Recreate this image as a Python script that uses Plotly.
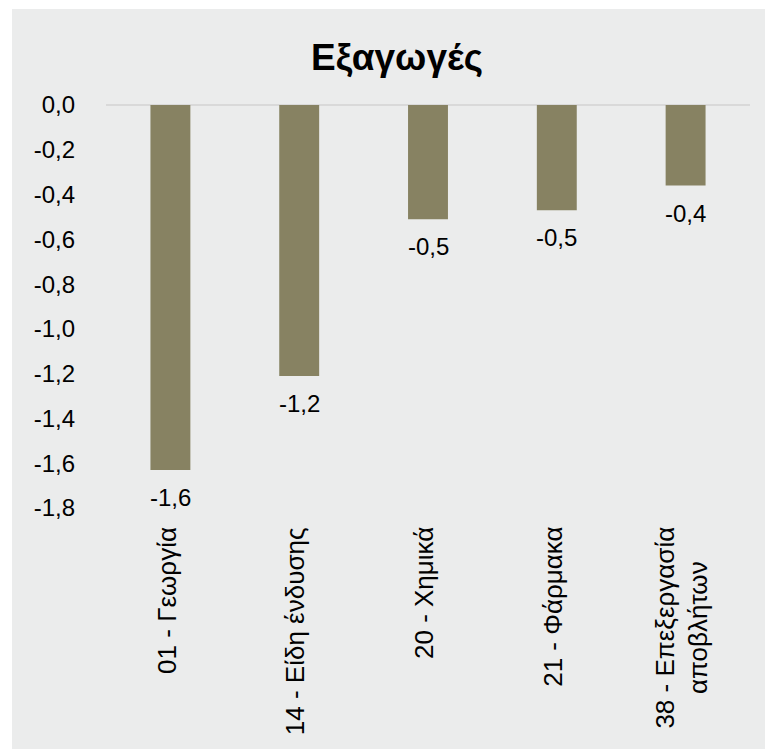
import plotly.graph_objects as go

# Export change by sector
categories = ["01 - Γεωργία", "14 - Είδη ένδυσης", "20 - Χημικά", "21 - Φάρμακα",
              "38 - Επεξεργασία<br>αποβλήτων"]
values = [-1.63, -1.21, -0.51, -0.47, -0.36]
tick_values = [0.0, -0.2, -0.4, -0.6, -0.8, -1.0, -1.2, -1.4, -1.6, -1.8]


def fmt(v):
    return f"{v:.1f}".replace(".", ",").replace("-0,0", "0,0")


W, H = 765, 749
L, R, T, B = 106, 15, 105, 241
pw, ph = W - L - R, H - T - B

BG = "#EBECEC"
BAR = "#878262"
FONT = "Liberation Sans, Arial, sans-serif"
FS = 24

fig = go.Figure(go.Bar(
    x=categories, y=values, marker=dict(color=BAR, line=dict(width=0)),
    width=0.31, hoverinfo="skip",
))

# value labels under each bar
for c, v in zip(categories, values):
    fig.add_annotation(x=c, y=v, xref="x", yref="y", text=fmt(v), showarrow=False,
                       yanchor="top", yshift=-12, font=dict(size=FS, color="#000000", family=FONT))

# rotated category labels below the plot
for c in categories:
    fig.add_annotation(x=c, y=0, xref="x", yref="paper", text=c, showarrow=False,
                       textangle=-90, yanchor="top", xanchor="center", align="center",
                       xshift=-4, yshift=-17, font=dict(size=26, color="#000000", family=FONT))

# grey chart panel
fig.add_shape(type="rect", xref="paper", yref="paper", layer="below",
              x0=(12 - L) / pw, x1=(W - L) / pw, y0=-(H - T - ph) / ph, y1=(ph + T - 9) / ph,
              fillcolor=BG, line=dict(width=0))

fig.update_layout(
    width=W, height=H,
    margin=dict(l=L, r=R, t=T, b=B),
    paper_bgcolor="#FFFFFF", plot_bgcolor=BG,
    showlegend=False,
    title=dict(text="<b>Εξαγωγές</b>", x=397 / W, y=1 - 57 / H, xanchor="center", yanchor="middle",
               xref="container", yref="container",
               font=dict(size=37, color="#000000", family=FONT)),
    xaxis=dict(showticklabels=False, showgrid=False, zeroline=False, showline=False, ticks=""),
    yaxis=dict(range=[-1.8, 0], tickvals=tick_values, ticktext=[fmt(v) for v in tick_values],
               showgrid=False, zeroline=True, zerolinecolor="#D9D9D9", zerolinewidth=1.5,
               showline=False, ticks="", ticklabelstandoff=30,
               tickfont=dict(size=FS, color="#000000", family=FONT)),
)

fig.write_html("out.html")
